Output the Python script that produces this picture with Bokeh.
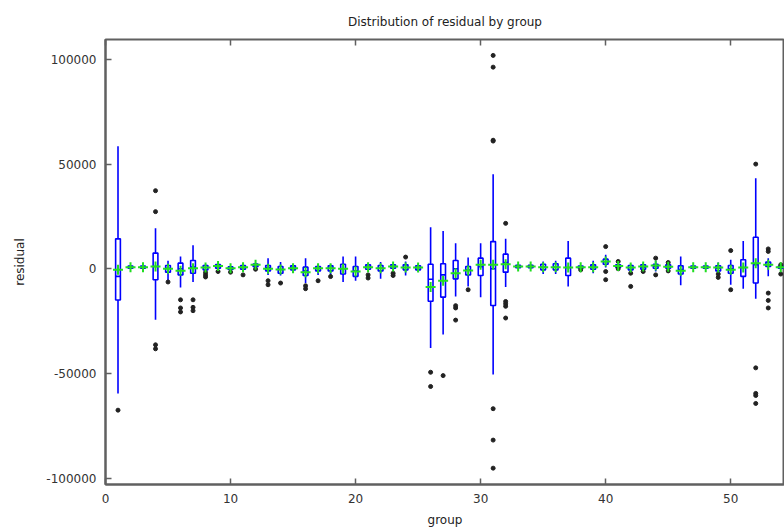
import numpy as np
from bokeh.plotting import figure
from bokeh.models import (Range1d, LinearAxis, SingleIntervalTicker, NumeralTickFormatter,
                          CustomJSTickFormatter, ColumnDataSource)
from bokeh.embed import file_html
from bokeh.resources import INLINE

groups = list(range(1, 55))
q1 = [-14900, 300, 300, -5200, -1600, -2900, -2100, -500, 300, -300,
      -200, 1000, -1000, -2100, -500, -3200, -1000, -1000, -2500, -3600,
      -200, -1000, 300, -500, -500, -15500, -13500, -4800, -2900, -3200,
      -17500, -1600, 500, 500, -500, -500, -3200, 300, -200, 2200,
      600, -500, -200, 300, 300, -2500, 300, 300, -1000, -2100,
      -3600, -6800, 1100, 300]
median = [-3600, 800, 800, 1100, 300, 0, 800, 600, 1000, 300,
          600, 1600, 600, -300, 300, -1000, 200, 300, 0, -1000,
          800, 300, 1100, 600, 500, -5000, -2900, 0, -600, 1000,
          0, 3000, 1100, 1100, 800, 800, 600, 800, 800, 3400,
          1200, 500, 700, 1300, 1000, -300, 800, 800, 300, 0,
          600, 2000, 2000, 800]
q3 = [14300, 1300, 1300, 7500, 1600, 2700, 4000, 1600, 2000, 900,
      1600, 2300, 1600, 1100, 1400, 800, 1100, 1400, 2200, 1100,
      1900, 1600, 1900, 1900, 1400, 2200, 2400, 4000, 1100, 5100,
      13000, 7000, 1700, 1700, 2200, 2400, 5100, 1300, 1900, 4600,
      1900, 1600, 1900, 2200, 1900, 1400, 1300, 1300, 1400, 1600,
      4300, 15100, 3200, 1300]
whisker_low = [-59500, 0, 0, -24300, -5700, -8900, -6300, -1300, -300, -900,
               -500, 300, -2900, -3200, -2000, -6800, -2900, -2900, -6300, -5700,
               -500, -4800, -500, -3200, -1300, -37800, -31400, -13200, -8400, -13600,
               -50500, -8700, 0, 0, -2500, -2500, -8400, -300, -2100, 600,
               0, -1300, -1300, -1300, -300, -7900, 0, 0, -1300, -7600,
               -9500, -14300, -3600, -500]
whisker_high = [58500, 1800, 1800, 19400, 3800, 5900, 11300, 2200, 2500, 1500,
                2500, 2900, 5100, 3200, 2200, 5100, 2200, 2200, 5900, 5900,
                2700, 3200, 2200, 3500, 2200, 19900, 18100, 12200, 5400, 12200,
                45200, 14300, 2200, 2200, 3500, 3800, 13300, 1800, 3800, 6700,
                2500, 2200, 2700, 3800, 2500, 5900, 1800, 1800, 3000, 4300,
                13300, 43200, 5100, 1800]
mean = [-500, 800, 800, 1100, 0, -950, 300, 600, 1300, 300,
        800, 1900, 0, -300, 300, -1600, 300, 300, 0, -1300,
        800, 300, 1100, 600, 600, -8700, -5700, -2100, -800, 1900,
        1900, 2200, 1100, 1100, 800, 800, 600, 800, 800, 3500,
        1300, 600, 1100, 1600, 1000, -950, 800, 800, 600, -500,
        600, 2700, 1900, 800]

outlier_group = [1, 4, 4, 4, 4, 5, 6, 6, 6, 7, 7, 7, 8, 8, 8, 9, 10, 11, 12,
                 13, 13, 14, 16, 16, 17, 18, 21, 21, 23, 23, 24, 26, 26, 27,
                 28, 28, 28, 29, 31, 31, 31, 31, 31, 31, 31, 32, 32, 32, 32, 32,
                 38, 40, 40, 40, 41, 41, 42, 42, 43, 44, 44, 45, 45, 49, 49,
                 50, 50, 52, 52, 52, 52, 52, 53, 53, 53, 53, 53, 54, 54]
outlier_value = [-67500, 37300, 27300, -36300, -38200, -6300, -14800, -18700, -20600,
                 -14800, -18400, -20000, -1800, -2900, -3900, -1300, -1600, -2900, -200,
                 -5700, -7600, -6800, -8100, -9500, -5700, -3700, -2900, -4400, -2100, -3200,
                 5600, -49400, -56200, -51000, -17600, -18700, -24500, -10000,
                 101900, 96300, 61400, 61000, -66800, -81800, -95200,
                 21700, -15600, -16700, -17900, -23500,
                 -500, 10600, -1300, -5200, 3500, 0, -2100, -8400, -1300, 5100, -2900,
                 3000, -1000, -2500, -4100, 8700, -10000,
                 50000, -47300, -59500, -60500, -64300,
                 9500, 8300, -11600, -15100, -18700, 1900, -2500]

BLUE = "#0000ff"
GREEN = "#22dd22"
AXIS = "#606060"
FONT = "DejaVu Sans"
BOX_W = 0.38

g = np.array(groups, dtype=float)
src = ColumnDataSource(dict(
    x=g, q1=q1, q3=q3, med=median, lo=whisker_low, hi=whisker_high, mean=mean,
    xl=g - BOX_W / 2, xr=g + BOX_W / 2,
))

p = figure(width=784, height=529, output_backend="svg", toolbar_location=None,
           x_range=Range1d(0, 54.3), y_range=Range1d(-103000, 109500),
           title="Distribution of residual by group",
           min_border_left=105, min_border_right=0, min_border_top=39, min_border_bottom=44)

p.grid.visible = False
p.background_fill_color = "white"
p.outline_line_color = AXIS
p.outline_line_width = 2

p.title.align = "center"
p.title.standoff = 14
p.title.text_font = FONT
p.title.text_font_size = "12px"
p.title.text_font_style = "normal"
p.title.text_color = "#222222"

for ax in (p.xaxis[0], p.yaxis[0]):
    ax.axis_line_color = AXIS
    ax.axis_line_width = 2
    ax.major_tick_line_color = AXIS
    ax.major_tick_line_width = 1.5
    ax.major_tick_in = 6
    ax.major_tick_out = 0
    ax.minor_tick_line_color = None
    ax.major_label_text_font = FONT
    ax.major_label_text_font_size = "12px"
    ax.major_label_text_color = "#333333"
    ax.axis_label_text_font = FONT
    ax.axis_label_text_font_size = "12px"
    ax.axis_label_text_font_style = "normal"
    ax.axis_label_text_color = "#222222"

p.xaxis[0].ticker = SingleIntervalTicker(interval=10)
p.yaxis[0].ticker = SingleIntervalTicker(interval=50000)
p.yaxis[0].formatter = NumeralTickFormatter(format="0")
p.xaxis[0].axis_label = "group"
p.yaxis[0].axis_label = "residual"
p.yaxis[0].major_label_standoff = 5
p.yaxis[0].axis_label_standoff = 16
p.xaxis[0].major_label_standoff = 5
p.xaxis[0].axis_label_standoff = 7

top = LinearAxis(ticker=SingleIntervalTicker(interval=10), axis_line_color=None,
                 major_tick_in=6, major_tick_out=0, major_tick_line_color=AXIS,
                 major_tick_line_width=1.5, minor_tick_line_color=None,
                 formatter=CustomJSTickFormatter(code="return ''"),
                 major_label_standoff=0)
p.add_layout(top, "above")

# whiskers
p.segment(x0="x", y0="lo", x1="x", y1="q1", source=src, line_color=BLUE, line_width=1.6)
p.segment(x0="x", y0="q3", x1="x", y1="hi", source=src, line_color=BLUE, line_width=1.6)
# boxes
p.quad(left="xl", right="xr", bottom="q1", top="q3", source=src,
       fill_color=None, line_color=BLUE, line_width=1.6)
# medians
p.segment(x0="xl", y0="med", x1="xr", y1="med", source=src, line_color=BLUE, line_width=1.6)
# outliers
p.scatter(x=outlier_group, y=outlier_value, size=4, marker="circle",
          fill_color="#222222", line_color="#222222")
# means
p.scatter(x="x", y="mean", source=src, marker="cross", size=10,
          line_color=GREEN, line_width=2)

open("out.html", "w").write(file_html(p, INLINE))
